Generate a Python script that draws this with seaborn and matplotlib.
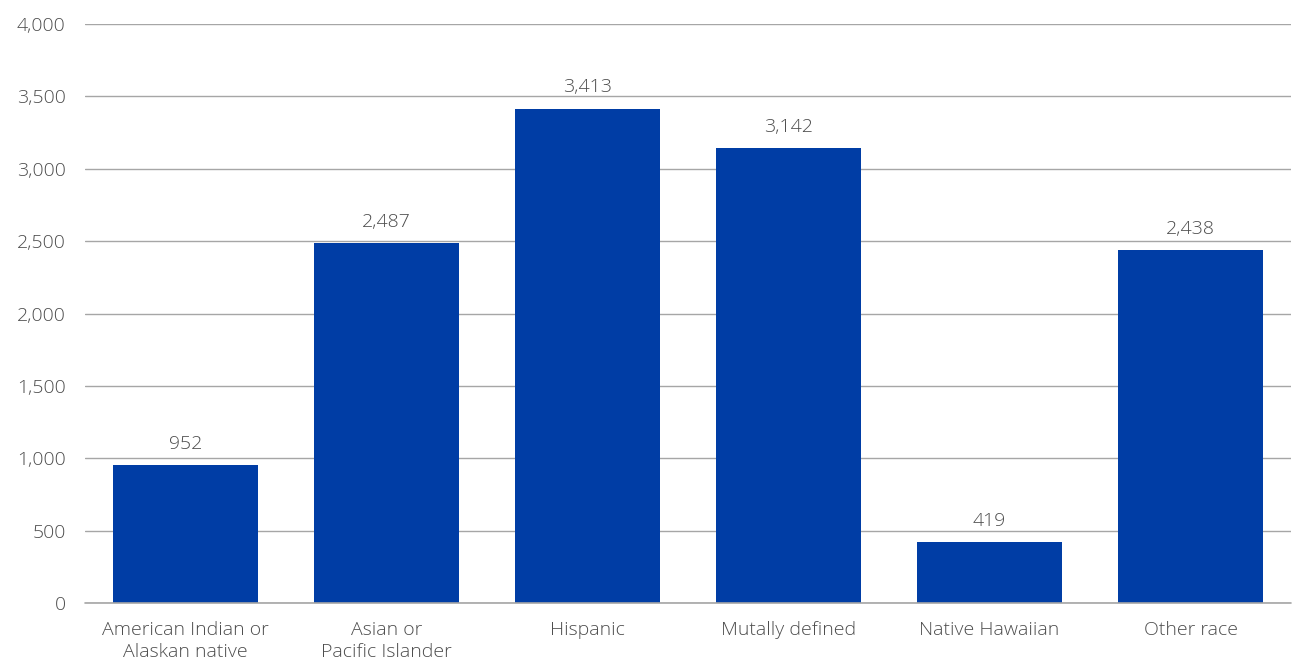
import matplotlib
matplotlib.use("Agg")
import matplotlib.pyplot as plt
import seaborn as sns
import pandas as pd
from matplotlib.ticker import FuncFormatter, MultipleLocator

categories = ["American Indian or\nAlaskan native", "Asian or\nPacific Islander", "Hispanic",
              "Mutally defined", "Native Hawaiian", "Other race"]
values = [952, 2487, 3413, 3142, 419, 2438]

sns.set_theme(style="white")
plt.rcParams['font.family'] = ['Open Sans', 'DejaVu Sans']

df = pd.DataFrame({"cat": categories, "val": values})
fig = plt.figure(figsize=(12.94, 6.61), dpi=100)
ax = fig.add_axes([0.0657, 0.0877, 0.932, 0.876])
sns.barplot(data=df, x="cat", y="val", color="#003DA5", saturation=1, width=0.72,
            linewidth=0, ax=ax, zorder=3)

ax.set_ylim(0, 4000)
ax.set_xlim(-0.5, 5.5)
ax.yaxis.set_major_locator(MultipleLocator(500))
ax.yaxis.set_major_formatter(FuncFormatter(lambda v, p: f"{int(v):,}"))
ax.grid(axis="y", color="#a6a6a6", linewidth=1.0, zorder=0)
ax.axhline(0, color="#a6a6a6", linewidth=1.2, zorder=4, clip_on=False)
ax.set_axisbelow(True)
for s in ax.spines.values():
    s.set_visible(False)
ax.set_xlabel("")
ax.set_ylabel("")
ax.tick_params(axis="both", length=0, labelsize=14, colors="#4d4d4d", pad=13)
ax.tick_params(axis="y", pad=14)
for lab in ax.get_xticklabels() + ax.get_yticklabels():
    lab.set_fontweight("light")
for lab in ax.get_xticklabels():
    lab.set_linespacing(1.3)

for i, v in enumerate(values):
    ax.annotate(f"{v:,}", (i, v), xytext=(0, 9), textcoords="offset points",
                ha="center", va="bottom", fontsize=14, color="#4d4d4d", fontweight="light")

fig.savefig("out.png", dpi=100)
